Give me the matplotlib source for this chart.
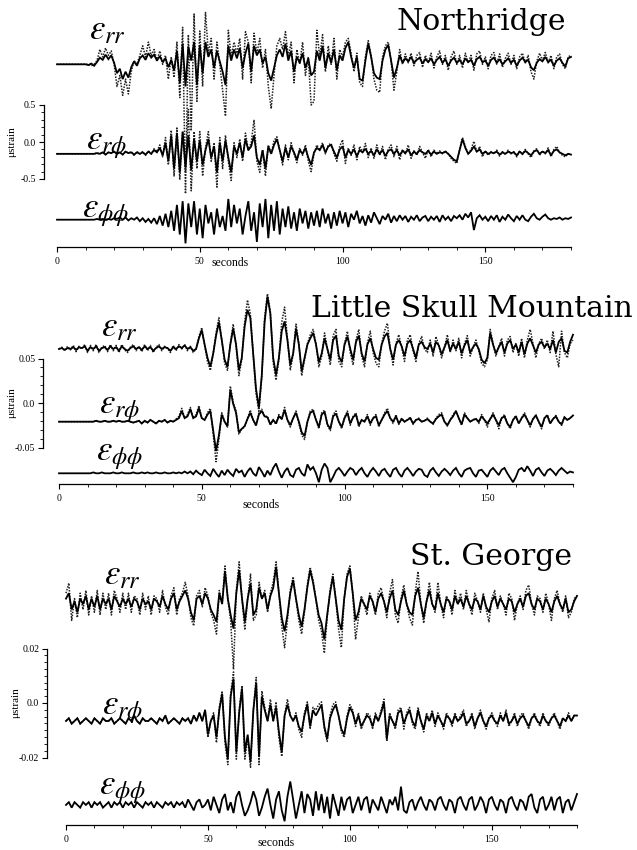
import numpy as np
import matplotlib
matplotlib.use("Agg")
import matplotlib.pyplot as plt
from matplotlib.ticker import MultipleLocator

plt.rcParams['mathtext.fontset'] = 'stix'

# ---------------- data (deviation from each trace's baseline, microstrain; 1 sample per second) -------------
seconds = list(range(0, 181))

# Northridge
nr_rr_solid = [0,0,0,0,0,0,0,0,0,0,
    0,-0.01,0.01,-0.02,0.03,0.09,0.06,0.13,0.07,0.12,
    0.02,-0.12,-0.06,-0.2,-0.1,-0.18,-0.04,0.04,-0.02,0.08,
    0.12,0.06,0.15,0.09,0.13,0.05,0.11,0.03,0.08,-0.04,
    0.06,-0.08,0.18,-0.25,0.28,-0.3,0.24,0.05,0.3,-0.28,
    0.26,-0.12,0.3,0.1,0.2,-0.05,0.18,0.04,-0.1,-0.28,
    0.25,0.05,0.2,0.08,0.22,-0.05,0.15,0.28,-0.1,0.25,
    0.12,0.2,0.02,0.1,-0.12,-0.22,-0.05,0.12,0.2,0.1,
    0.28,0.05,0.18,-0.1,0.1,0.02,0.15,-0.05,0.08,-0.15,
    -0.1,0.18,0.05,0.25,-0.05,0.15,0.02,0.2,-0.08,0.12,
    0.05,0.22,0.3,0.1,-0.05,0.1,-0.2,-0.22,0.05,0.28,
    0.1,-0.12,-0.18,-0.2,0.05,0.2,0.26,0.05,-0.18,-0.05,
    0.12,0.02,0.08,0.04,0.1,0.02,0.06,0.09,0.01,0.07,
    0.03,0.08,0.0,0.06,0.1,0.02,0.07,-0.02,0.05,0.09,
    0.02,0.06,0.0,0.08,0.03,0.06,-0.02,0.07,0.1,0.03,
    0.05,-0.02,0.06,0.09,0.02,0.07,0.0,0.04,0.08,0.02,
    0.06,-0.02,0.05,0.09,0.03,0.06,-0.04,-0.08,0.02,0.07,
    0.04,0.1,0.03,0.06,-0.02,0.05,0.08,0.02,-0.03,0.08,
    0.1]
nr_rr_dotted = [0,0,0,0,0,0,0,0,0,0,
    0,0,-0.02,0.0,0.05,0.2,0.1,0.22,0.12,0.18,
    0.0,-0.3,-0.15,-0.42,-0.2,-0.4,-0.1,0.05,0.0,0.12,
    0.25,0.1,0.3,0.12,0.2,0.05,0.18,0.0,0.12,-0.2,
    0.1,-0.18,0.3,-0.45,0.5,-1.75,0.4,-0.9,0.68,-0.5,
    0.45,-0.3,0.7,0.15,0.35,-0.2,0.3,0.0,-0.35,-0.7,
    0.46,0.1,0.3,0.15,0.35,-0.2,0.44,0.3,-0.25,0.42,
    0.15,0.35,-0.05,0.2,-0.3,-0.6,-0.15,0.25,0.35,0.2,
    0.44,0.1,0.3,-0.25,0.2,0.0,0.3,-0.15,0.1,-0.55,
    -0.5,0.46,0.1,0.4,-0.1,0.25,0.0,0.35,-0.2,0.2,
    0.1,0.3,0.35,0.15,-0.1,0.15,-0.25,-0.3,0.1,0.32,
    0.12,-0.2,-0.35,-0.38,0.1,0.25,0.3,0.05,-0.35,-0.1,
    0.2,0.0,0.14,0.02,0.15,-0.02,0.12,0.16,-0.04,0.12,
    0.02,0.15,-0.05,0.1,0.18,0.0,0.12,-0.08,0.1,0.18,
    0.0,0.12,-0.05,0.15,0.02,0.12,-0.08,0.14,0.18,0.0,
    0.1,-0.06,0.12,0.16,0.0,0.14,-0.04,0.08,0.15,0.0,
    0.12,-0.06,0.1,0.15,0.02,0.12,-0.1,-0.2,0.04,0.15,
    0.05,0.16,0.02,0.12,-0.06,0.1,0.14,0.0,-0.06,0.1,
    0.12]
nr_rp_solid = [0,0,0,0,0,0,0,0,0,0,
    0,0,0,0,0.01,0,0.02,-0.01,0.02,0.01,
    0.03,0.0,0.02,-0.01,0.03,0.01,0.02,-0.01,0.02,0.0,
    0.02,-0.01,0.03,0.0,0.05,0.02,0.08,-0.02,0.15,-0.1,
    0.25,-0.2,0.28,-0.25,0.3,-0.18,0.25,-0.22,0.2,-0.1,
    0.18,-0.15,0.05,0.2,-0.05,0.1,-0.25,0.15,-0.1,0.18,
    -0.05,-0.25,0.1,0.0,0.15,-0.05,0.2,0.05,0.1,0.25,
    -0.05,-0.15,0.05,-0.2,0.1,0.0,0.12,0.2,0.05,-0.1,
    0.08,-0.05,0.1,0.02,-0.08,0.05,0.0,0.08,-0.05,-0.15,
    0.02,0.08,0.05,0.12,0.02,0.1,0.12,0.03,-0.05,0.06,
    0.1,-0.05,0.05,0.0,0.06,-0.03,0.05,0.02,0.07,0.0,
    0.04,-0.02,0.06,0.0,0.05,-0.03,0.04,0.06,0.0,0.05,
    -0.02,0.04,0.01,0.06,-0.02,0.03,0.0,0.05,0.02,0.0,
    0.04,-0.01,0.03,0.0,0.02,0.01,0.03,0.0,-0.04,-0.08,
    -0.1,0.05,0.2,0.08,0.0,0.04,0.1,0.03,0.06,0.0,
    0.03,0.0,0.02,0.01,0.03,-0.01,0.02,0.0,0.03,0.01,
    0.02,-0.02,0.03,0.0,0.04,0.01,-0.02,0.03,0.05,0.0,
    0.03,0.01,0.05,-0.02,0.04,0.06,0.02,0.0,-0.02,0.0,
    -0.01]
nr_rp_dotted = [0,0,0,0,0,0,0,0,0,0,
    0,0,0,0,0.01,0,0.02,-0.01,0.02,0.01,
    0.03,0.0,0.02,-0.01,0.03,0.01,0.03,-0.02,0.03,0.0,
    0.03,-0.02,0.04,0.0,0.07,0.03,0.12,-0.04,0.22,-0.15,
    0.32,-0.3,0.35,-0.35,0.3,-0.25,0.6,-0.5,0.3,-0.2,
    0.3,-0.3,0.08,0.3,-0.1,0.15,-0.45,0.22,-0.2,0.25,
    -0.1,-0.36,0.15,-0.05,0.2,-0.1,0.28,0.05,0.15,0.46,
    -0.1,-0.25,0.05,-0.3,0.12,0.0,0.18,0.23,0.05,-0.15,
    0.12,-0.08,0.15,0.0,-0.12,0.08,-0.02,0.12,-0.1,-0.24,
    0.0,0.12,0.05,0.15,0.0,0.12,0.14,0.0,-0.1,0.1,
    0.19,-0.13,0.08,-0.02,0.12,-0.08,0.1,0.02,0.14,-0.05,
    0.08,-0.06,0.12,-0.02,0.1,-0.08,0.06,0.12,-0.04,0.1,
    -0.08,0.06,0.0,0.12,-0.06,0.04,-0.02,0.1,0.02,-0.06,
    0.06,-0.04,0.05,0.0,0.04,0.0,0.04,0.0,-0.06,-0.1,
    -0.13,0.06,0.22,0.1,0.0,0.06,0.17,0.02,0.1,-0.04,
    0.04,-0.02,0.03,0.0,0.05,-0.03,0.03,-0.01,0.05,0.0,
    0.03,-0.04,0.04,-0.01,0.06,0.0,-0.05,0.04,0.07,-0.02,
    0.04,0.0,0.08,-0.04,0.06,0.1,0.02,-0.02,-0.04,0.0,
    -0.01]
nr_pp_solid = [0,0,0,0,0,0,0,0,0,0,
    0,0,0,0,0.01,0,0.01,0,0.01,0,
    0.02,0.01,0.03,0.0,0.03,-0.01,0.02,0.0,0.03,-0.02,
    0.02,-0.03,0.01,-0.04,0.02,-0.06,0.05,-0.08,0.08,-0.1,
    0.12,-0.15,0.2,-0.2,0.25,-0.32,0.22,-0.1,0.25,-0.2,
    0.15,-0.25,0.2,-0.05,0.1,-0.2,0.15,-0.1,0.05,-0.15,
    0.28,-0.1,0.2,-0.05,0.15,-0.2,0.05,0.25,-0.15,0.1,
    -0.3,0.22,-0.1,0.28,-0.25,0.2,-0.15,0.25,-0.2,0.15,
    -0.1,0.18,-0.12,0.1,-0.15,0.15,-0.05,0.12,-0.12,0.1,
    -0.08,0.12,-0.1,0.15,-0.05,0.08,-0.12,0.1,-0.08,0.12,
    -0.05,0.1,-0.1,0.08,0.0,0.12,-0.05,0.05,-0.08,0.06,
    -0.04,0.1,0.02,-0.06,0.05,0.0,0.08,-0.04,0.05,-0.02,
    0.06,0.0,0.05,-0.03,0.04,0.0,0.06,-0.02,0.03,0.05,
    -0.02,0.04,0.0,0.05,-0.03,0.06,0.0,0.04,-0.02,0.05,
    0.02,0.06,0.0,0.08,0.03,0.1,-0.14,0.02,0.06,0.0,
    0.04,-0.02,0.05,0.0,0.06,-0.03,0.04,0.0,0.07,0.02,
    -0.02,0.05,0.0,0.06,0.0,-0.02,0.04,0.08,0.02,0.0,
    0.04,0.07,0.02,0.0,0.02,0.01,0.03,0.0,0.02,0.01,
    0.03]

# Little Skull Mountain
lsm_rr_solid = [0,0.001,-0.001,0.001,0,0.002,-0.001,0.002,0.001,0.003,
    -0.002,0.002,0.0,0.003,-0.002,0.001,0.002,-0.001,0.003,0.0,
    0.002,-0.002,0.003,0.0,-0.002,0.001,0.003,0.0,0.002,-0.001,
    0.003,0.0,0.002,-0.002,0.001,0.003,0.0,0.002,0.001,-0.002,
    0.002,0.0,0.003,0.001,0.004,0.0,0.002,-0.002,0.0,0.012,
    0.021,0.005,-0.01,-0.02,-0.005,0.015,0.03,0.01,-0.012,-0.02,
    0.005,0.023,0.005,-0.024,-0.01,0.025,0.044,0.035,-0.005,-0.045,
    -0.066,-0.03,0.03,0.059,0.04,-0.01,-0.029,-0.01,0.02,0.031,
    0.01,-0.018,-0.005,0.023,0.005,-0.025,-0.01,0.005,0.012,0.018,
    0.005,-0.015,-0.005,0.012,0.0,-0.012,0.01,0.015,-0.008,-0.015,
    0.005,0.014,0.0,-0.012,0.008,0.015,-0.005,-0.014,0.005,0.012,
    0.0,-0.01,-0.012,0.005,0.014,0.018,0.0,-0.012,0.005,0.01,
    0.003,-0.008,0.006,0.01,0.0,-0.01,0.005,0.008,0.002,0.0,
    0.006,-0.004,0.008,0.004,-0.006,0.002,0.01,-0.002,0.006,0.0,
    0.008,-0.005,0.004,0.01,-0.004,0.002,0.006,0.0,-0.012,-0.016,
    -0.01,0.018,0.005,-0.005,0.002,0.008,-0.004,0.006,0.01,0.0,
    0.005,-0.004,0.008,-0.006,0.006,0.012,0.004,-0.004,0.005,0.008,
    0.002,0.006,0.0,0.01,-0.004,0.008,0.012,-0.002,-0.004,0.008,
    0.016]
lsm_rr_dotted = [0,0.002,-0.002,0.003,-0.001,0.004,-0.003,0.003,0.0,0.005,
    -0.004,0.004,-0.002,0.005,-0.004,0.002,0.004,-0.003,0.005,-0.002,
    0.004,-0.004,0.005,-0.001,-0.004,0.002,0.005,-0.002,0.003,-0.003,
    0.005,-0.002,0.004,-0.004,0.002,0.005,-0.002,0.003,0.001,-0.004,
    0.004,-0.002,0.005,0.0,0.005,-0.002,0.003,-0.004,0.0,0.014,
    0.024,0.004,-0.014,-0.024,-0.006,0.018,0.035,0.01,-0.016,-0.024,
    0.006,0.028,0.004,-0.03,-0.012,0.03,0.055,0.04,-0.006,-0.05,
    -0.07,-0.032,0.035,0.062,0.042,-0.015,-0.035,-0.012,0.03,0.047,
    0.012,-0.024,-0.006,0.028,0.006,-0.03,-0.012,0.006,0.016,0.022,
    0.006,-0.02,-0.008,0.018,0.0,-0.018,0.015,0.022,-0.014,-0.02,
    0.006,0.02,-0.004,-0.018,0.01,0.022,-0.008,-0.02,0.006,0.02,
    -0.004,-0.016,-0.02,0.006,0.02,0.029,0.0,-0.018,0.006,0.016,
    0.002,-0.014,0.01,0.016,-0.002,-0.014,0.006,0.014,0.0,-0.004,
    0.01,-0.008,0.014,0.004,-0.01,0.002,0.016,-0.004,0.01,-0.002,
    0.012,-0.01,0.006,0.015,-0.008,0.002,0.01,-0.002,-0.016,-0.02,
    -0.012,0.022,0.006,-0.008,0.002,0.012,-0.008,0.01,0.014,-0.004,
    0.006,-0.008,0.012,-0.01,0.01,0.022,0.006,-0.01,0.006,0.012,
    0.0,0.01,-0.004,0.02,-0.006,-0.02,0.02,-0.004,-0.01,0.006,
    0.01]
lsm_rp_solid = [0,0,0,0,0,0,0,0,0,0,
    0,0,0,0.001,0,0,0.001,0,0,0.001,
    0,0.001,0,0,0.001,0,-0.001,0,0.001,-0.002,
    0.001,-0.001,0.002,0,-0.002,0.001,0,0.002,-0.001,0.001,
    0.0,0.002,0.004,0.012,0.004,0.006,0.014,0.004,0.006,0.015,
    0.004,0.002,0.008,0.012,-0.01,-0.033,-0.015,0.008,0.0,-0.005,
    0.036,0.02,0.01,-0.012,-0.008,-0.005,0.003,0.01,0.002,-0.004,
    0.008,0.012,0.006,0.005,-0.003,0.002,-0.002,0.006,0.003,0.013,
    0.002,-0.004,0.004,0.01,0.0,-0.012,-0.016,0.0,0.01,0.012,
    0.002,-0.006,0.008,0.011,-0.003,-0.008,0.006,0.009,0.0,-0.006,
    0.004,0.01,-0.002,0.005,0.008,-0.004,0.002,0.0,0.006,-0.002,
    0.004,0.006,-0.004,0.002,0.008,0.012,0.004,0.0,0.006,-0.002,
    0.003,0.0,0.002,0.004,-0.002,0.002,0.003,0.0,0.001,0.003,
    0.0,-0.002,0.003,0.006,0.008,0.0,-0.004,0.002,0.006,0.012,
    0.004,-0.003,0.008,0.004,0.0,0.002,0.003,0.0,0.006,0.002,
    -0.002,0.003,0.008,0.002,-0.004,0.004,0.006,-0.002,-0.006,0.002,
    0.006,-0.002,0.004,0.008,0.002,-0.004,0.003,0.007,0.0,-0.006,
    0.004,0.007,-0.002,0.003,0.006,0.0,-0.003,0.005,0.002,0.004,
    0.007]
lsm_rp_dotted = [0,0,0,0,0,0,0,0,0,0,
    0,0,0,0.001,0,0,0.001,0,0,0.001,
    0,0.001,0,0,0.001,0,-0.001,0,0.001,-0.002,
    0.001,-0.001,0.002,0,-0.002,0.001,0,0.002,-0.001,0.001,
    0.0,0.003,0.006,0.015,0.004,0.008,0.016,0.004,0.008,0.018,
    0.004,0.002,0.01,0.015,-0.014,-0.045,-0.02,0.01,0.0,-0.006,
    0.04,0.022,0.012,-0.014,-0.008,-0.006,0.004,0.013,0.002,-0.005,
    0.01,0.014,0.006,0.006,-0.004,0.002,-0.003,0.008,0.003,0.016,
    0.002,-0.006,0.004,0.012,-0.002,-0.015,-0.02,0.0,0.012,0.014,
    0.002,-0.008,0.01,0.013,-0.004,-0.01,0.008,0.012,0.0,-0.008,
    0.005,0.012,-0.004,0.006,0.01,-0.006,0.002,0.0,0.008,-0.004,
    0.004,0.008,-0.006,0.002,0.01,0.015,0.004,-0.002,0.008,-0.003,
    0.004,0.0,0.002,0.005,-0.003,0.002,0.004,0.0,0.001,0.004,
    0.0,-0.003,0.004,0.008,0.01,0.0,-0.005,0.002,0.008,0.012,
    0.004,-0.004,0.01,0.004,0.0,0.002,0.004,-0.002,0.008,0.002,
    -0.006,0.003,0.01,0.002,-0.008,0.004,0.008,-0.002,-0.008,0.002,
    0.007,-0.002,0.004,0.01,0.002,-0.006,0.003,0.008,0.0,-0.008,
    0.004,0.008,-0.002,0.003,0.007,0.0,-0.004,0.005,0.002,0.004,
    0.007]
lsm_pp_solid = [0,0,0,0,0,0,0,0,0,0,
    0,0,0.001,0,0,0.001,0,0,0,0.001,
    0,0,0.001,0,0,0,0.001,0,0,0.001,
    0,0.001,0,0,0.001,0,0,0.001,0,0,
    0.001,0,0.001,0,0.002,0.0,0.002,-0.001,0.003,0.0,
    -0.002,0.004,0.0,-0.003,0.005,0.0,-0.004,0.003,-0.002,0.004,
    0.0,-0.003,0.005,0.001,0.003,-0.004,0.002,0.006,0.0,-0.003,
    0.007,0.002,-0.004,0.003,-0.002,0.006,0.011,0.002,-0.005,0.002,
    0.006,-0.002,-0.004,0.004,0.006,0.0,-0.003,0.01,0.004,0.007,
    0.0,-0.01,0.004,0.011,0.006,-0.01,-0.004,0.003,0.006,0.002,
    -0.003,0.002,0.006,0.004,-0.002,0.003,0.006,0.0,-0.004,0.002,
    0.006,0.002,-0.003,0.003,0.005,0.0,-0.004,0.004,0.006,0.0,
    -0.004,0.003,0.006,0.002,-0.003,0.002,0.005,0.004,-0.002,-0.004,
    0.003,0.006,0.001,-0.003,0.002,0.005,0.002,-0.002,0.003,0.006,
    0.0,-0.004,0.003,0.005,0.006,0.0,-0.004,0.003,0.004,0.0,
    -0.004,0.003,0.006,0.002,-0.002,0.004,0.006,0.0,-0.005,-0.01,
    -0.004,0.004,0.006,0.002,0.008,0.003,-0.003,0.004,0.006,0.001,
    -0.003,0.003,0.005,0.002,-0.002,0.003,0.006,0.003,0.0,0.002,
    0.001]

# St. George
sg_rr_solid = [0.002,0.004,-0.002,0.001,-0.003,0.002,0.0,0.003,-0.002,0.002,
    -0.001,0.003,-0.002,0.002,0.0,0.002,-0.002,0.003,0.001,-0.001,
    0.002,0.0,0.002,-0.001,0.002,0.001,-0.002,0.002,0.0,0.001,
    -0.002,0.002,0.001,-0.001,0.003,0.0,-0.002,0.002,0.004,-0.002,
    0.001,0.003,0.005,0.002,-0.003,-0.006,0.002,0.003,0.0,0.004,
    0.002,-0.002,-0.004,-0.0065,0.004,0.0,0.012,0.002,-0.004,-0.009,
    0.004,0.0125,0.002,-0.0065,0.002,0.0076,-0.004,-0.002,0.006,0.002,
    0.004,-0.002,0.003,0.006,0.0137,0.004,-0.005,-0.01,-0.004,0.004,
    0.0088,0.002,-0.004,-0.0083,-0.002,0.006,0.0125,0.008,0.002,-0.004,
    -0.007,-0.013,-0.004,0.004,0.01,0.002,-0.006,-0.0095,0.002,0.01,
    0.013,0.004,-0.006,-0.003,0.002,0.0,-0.002,0.003,0.001,-0.003,
    0.002,0.004,0.001,-0.003,0.002,0.005,-0.002,-0.004,0.001,0.005,
    0.0,-0.003,-0.004,0.003,0.006,0.0,-0.005,0.001,0.005,0.0,
    -0.002,0.004,0.0,-0.003,0.002,0.001,-0.002,0.003,0.0,0.002,
    -0.001,0.003,0.0,-0.002,0.002,0.001,-0.002,0.003,-0.001,-0.003,
    0.001,0.003,-0.001,0.002,0.0,-0.002,0.002,0.001,-0.003,0.0,
    0.002,-0.001,0.003,0.004,0.0,-0.002,0.002,0.001,-0.002,0.002,
    0.0,-0.003,0.001,0.003,0.0,-0.002,0.002,-0.003,-0.002,0.001,
    0.003]
sg_rr_dotted = [0.004,0.0077,-0.006,0.002,-0.005,0.004,-0.002,0.005,-0.004,0.003,
    -0.003,0.005,-0.004,0.004,-0.002,0.004,-0.004,0.005,0.002,-0.003,
    0.004,-0.002,0.004,-0.003,0.003,0.002,-0.004,0.004,-0.002,0.003,
    -0.004,0.003,0.002,-0.003,0.005,-0.001,-0.004,0.003,0.006,-0.004,
    0.002,0.004,0.008,0.003,-0.005,-0.008,0.003,0.005,-0.001,0.006,
    0.003,-0.003,-0.006,-0.011,0.005,0.0,0.014,0.002,-0.006,-0.024,
    0.005,0.0155,0.002,-0.0095,0.002,0.011,-0.006,-0.004,0.008,0.002,
    0.005,-0.003,0.004,0.008,0.0155,0.004,-0.008,-0.016,-0.006,0.005,
    0.01,0.002,-0.006,-0.011,-0.003,0.007,0.0135,0.009,0.002,-0.006,
    -0.01,-0.018,-0.005,0.005,0.011,0.002,-0.009,-0.016,0.002,0.011,
    0.014,0.004,-0.013,-0.005,0.003,0.0,-0.004,0.004,0.001,-0.004,
    0.004,0.006,0.001,-0.005,0.004,0.009,-0.004,-0.007,0.002,0.007,
    0.0,-0.005,-0.0077,0.004,0.012,0.0,-0.007,0.001,0.008,0.0,
    -0.003,0.008,0.0,-0.005,0.003,0.001,-0.004,0.005,0.0,0.004,
    -0.002,0.005,0.0,-0.004,0.004,0.001,-0.003,0.004,-0.002,-0.0065,
    0.002,0.005,-0.002,0.003,0.0,-0.004,0.004,0.002,-0.006,0.0,
    0.003,-0.002,0.005,0.007,0.0,-0.004,0.003,0.002,-0.003,0.004,
    0.0,-0.006,0.002,0.005,0.0,-0.003,0.003,-0.005,-0.003,0.002,
    0.003]
sg_rp_solid = [0.0,0.001,-0.001,0.0,0.001,-0.001,0.0,0.001,0.0,-0.001,
    0.001,0.0,-0.001,0.001,0.0,0.0,0.001,-0.001,0.0,0.001,
    0.0,-0.001,0.001,0.0,0.002,0.0,-0.001,0.001,0.0,0.0,
    0.001,0.0,-0.001,0.001,0.0,0.002,-0.001,0.0,0.001,0.0,
    -0.001,0.001,0.0,0.001,-0.001,0.002,0.0,0.003,0.0,0.004,
    -0.005,0.0,0.002,-0.006,0.004,0.01,-0.006,-0.014,0.009,0.0154,
    -0.0115,0.003,0.012,-0.0115,-0.005,-0.015,0.004,0.014,-0.013,0.009,
    0.004,0.0,0.006,0.0,0.005,-0.004,-0.0115,0.002,0.006,0.002,
    0.0,0.002,-0.002,-0.004,0.002,0.006,-0.002,0.004,0.002,0.004,
    0.006,-0.002,-0.0066,0.001,0.004,0.006,0.002,-0.003,-0.005,0.001,
    0.005,0.003,-0.001,0.002,-0.002,0.0,0.002,0.001,-0.002,0.002,
    0.0,0.003,0.0068,-0.0066,0.002,0.0,-0.002,0.003,0.004,-0.001,
    0.002,0.004,0.0,-0.002,0.004,0.0,-0.003,0.002,0.0,0.003,
    -0.001,0.002,0.0,-0.002,0.002,0.001,-0.001,0.002,0.0,0.001,
    0.003,-0.001,0.0,0.002,-0.002,0.001,0.003,0.0,-0.002,0.001,
    0.002,0.0,-0.001,0.002,0.0,0.003,-0.001,0.0,0.002,-0.001,
    0.001,0.002,0.0,-0.002,0.001,0.002,0.0,-0.001,0.002,0.0,
    -0.001,0.001,0.002,0.0,-0.002,0.001,0.0,0.002,0.0,0.002,
    0.002]
sg_rp_dotted = [0.0,0.001,-0.001,0.0,0.001,-0.001,0.0,0.001,0.0,-0.001,
    0.001,0.0,-0.001,0.001,0.0,0.0,0.001,-0.001,0.0,0.001,
    0.0,-0.001,0.001,0.0,0.002,0.0,-0.001,0.001,0.0,0.0,
    0.001,0.0,-0.001,0.001,0.0,0.002,-0.001,0.0,0.001,0.0,
    -0.001,0.001,0.0,0.001,-0.001,0.002,0.0,0.003,0.0,0.004,
    -0.006,0.0,0.003,-0.008,0.005,0.011,-0.008,-0.016,0.01,0.018,
    -0.014,0.004,0.013,-0.014,-0.006,-0.017,0.004,0.016,-0.016,0.011,
    0.005,0.0,0.008,0.0,0.007,-0.006,-0.013,0.002,0.008,0.002,
    0.0,0.003,-0.003,-0.006,0.003,0.007,-0.003,0.005,0.004,0.006,
    0.007,-0.003,-0.0075,0.002,0.006,0.007,0.002,-0.004,-0.006,0.002,
    0.006,0.004,-0.002,0.003,-0.003,0.0,0.003,0.002,-0.003,0.003,
    0.0,0.004,0.008,-0.0075,0.003,0.0,-0.003,0.004,0.005,-0.003,
    0.003,0.005,-0.001,-0.003,0.005,0.0,-0.004,0.003,0.0,0.004,
    -0.002,0.003,0.0,-0.003,0.003,0.001,-0.002,0.003,0.0,0.002,
    0.004,-0.002,0.0,0.003,-0.003,0.001,0.004,0.0,-0.003,0.001,
    0.003,0.0,-0.002,0.003,0.0,0.004,-0.002,0.0,0.003,-0.002,
    0.002,0.003,0.0,-0.003,0.001,0.003,0.0,-0.002,0.003,0.0,
    -0.002,0.001,0.003,0.0,-0.003,0.001,0.0,0.003,0.0,0.002,
    0.002]
sg_pp_solid = [0.0,0.001,-0.001,0.001,0.0,-0.001,0.001,0.0,0.001,-0.001,
    0.001,0.0,0.001,-0.001,0.0,0.001,-0.001,0.001,0.0,0.001,
    -0.001,0.001,0.0,0.001,-0.001,0.001,0.0,-0.001,0.001,0.0,
    0.001,-0.001,0.001,0.0,-0.001,0.001,0.0,0.001,-0.001,0.001,
    0.0,0.001,-0.001,0.002,0.0,-0.002,0.001,0.002,-0.001,0.0,
    0.002,-0.002,0.003,0.0,-0.003,0.002,0.004,-0.002,0.001,-0.003,
    0.003,0.005,0.0,-0.004,-0.002,0.001,0.005,0.002,-0.004,-0.001,
    0.003,0.006,0.0,-0.005,0.002,0.005,-0.002,-0.006,0.003,0.0086,
    0.002,-0.005,0.0,0.005,-0.003,0.004,0.002,-0.004,0.005,-0.002,
    0.004,-0.003,0.003,-0.005,0.004,0.0,-0.004,0.003,-0.002,0.002,
    0.003,-0.003,0.0,0.003,-0.002,0.002,0.003,-0.003,0.002,0.0,
    -0.002,0.003,0.0,-0.003,0.002,0.0,0.003,-0.002,0.0067,-0.002,
    -0.003,0.001,0.002,-0.002,0.001,0.003,0.0,-0.002,0.002,0.001,
    -0.002,0.002,0.003,0.0,-0.002,0.002,0.001,-0.003,0.002,0.003,
    0.0,-0.002,0.002,0.003,-0.002,0.0,0.003,0.001,-0.003,0.002,
    0.003,0.0,-0.002,0.002,0.001,-0.003,0.002,0.003,0.0,-0.002,
    0.002,0.001,-0.002,0.003,0.004,-0.001,-0.003,0.002,0.003,-0.002,
    0.0,0.003,-0.002,0.002,0.003,-0.003,0.001,0.002,-0.002,0.001,
    0.004]

station_names = ["Northridge", "Little Skull Mountain", "St. George"]
ytick_values = [[-0.5, 0.0, 0.5], [-0.05, 0.0, 0.05], [-0.02, 0.0, 0.02]]
ytick_labels = [["-0.5", "0.0", "0.5"], ["-0.05", "0.0", "0.05"], ["-0.02", "0.0", "0.02"]]
xtick_values = [0, 50, 100, 150]
component_labels = [r"$\varepsilon_{rr}$", r"$\varepsilon_{r\phi}$", r"$\varepsilon_{\phi\phi}$"]

# ---------------- layout (pixels in a 637x850 canvas) ----------------
W, H = 637, 850
fig = plt.figure(figsize=(W / 100, H / 100), dpi=100)
fig.patch.set_facecolor("white")

panels = [
    dict(spine=44, t0=57, t180=571, top=0, bottom=247, zero=142, ppu=74.0,
         offsets=[1.05, -0.16, -1.05], minor=0.1,
         traces=[(nr_rr_solid, nr_rr_dotted), (nr_rp_solid, nr_rp_dotted), (nr_pp_solid, None)],
         labels=[(89, 39), (86, 149), (82, 217)],
         title=(566, 30, "right"), secs=(230, 266), ylab=(12, 142)),
    dict(spine=43, t0=59, t180=573, top=285, bottom=484, zero=403, ppu=890.0,
         offsets=[0.0607, -0.021, -0.079], minor=0.01,
         traces=[(lsm_rr_solid, lsm_rr_dotted), (lsm_rp_solid, lsm_rp_dotted), (lsm_pp_solid, None)],
         labels=[(101, 336), (99, 413), (96, 460)],
         title=(633, 317, "right"), secs=(261, 508), ylab=(12, 403)),
    dict(spine=47, t0=66, t180=577, top=548, bottom=825, zero=703, ppu=2725.0,
         offsets=[0.0363, -0.0066, -0.0374], minor=0.0025,
         traces=[(sg_rr_solid, sg_rr_dotted), (sg_rp_solid, sg_rp_dotted), (sg_pp_solid, None)],
         labels=[(104, 584), (102, 714), (99, 794)],
         title=(572, 565, "right"), secs=(276, 846), ylab=(16, 703)),
]

serif_small = ["Liberation Serif", "DejaVu Serif"]

for i, p in enumerate(panels):
    pps = (p["t180"] - p["t0"]) / 180.0
    ax = fig.add_axes([p["spine"] / W, 1 - p["bottom"] / H,
                       (p["t180"] - p["spine"]) / W, (p["bottom"] - p["top"]) / H])
    ax.set_xlim(-(p["t0"] - p["spine"]) / pps, 180)
    ax.set_ylim((p["zero"] - p["bottom"]) / p["ppu"], (p["zero"] - p["top"]) / p["ppu"])
    ax.patch.set_alpha(0)

    for k, (sol, dot) in enumerate(p["traces"]):
        off = p["offsets"][k]
        if dot is not None:
            ax.plot(np.arange(len(dot)), np.asarray(dot) + off, color="#222222",
                    lw=1.1, linestyle=(0, (1.0, 0.9)), clip_on=False, zorder=2)
        ax.plot(np.arange(len(sol)), np.asarray(sol) + off, color="black",
                lw=1.3, clip_on=False, zorder=3, solid_joinstyle="miter")

    for s in ["top", "right"]:
        ax.spines[s].set_visible(False)
    ax.spines["left"].set_bounds(ytick_values[i][0], ytick_values[i][-1])
    ax.spines["bottom"].set_bounds(0, 180)
    ax.spines["left"].set_linewidth(0.9)
    ax.spines["bottom"].set_linewidth(0.9)

    ax.set_yticks(ytick_values[i])
    ax.set_yticklabels(ytick_labels[i], family=serif_small, fontsize=7)
    ax.set_xticks(xtick_values)
    ax.set_xticklabels([str(v) for v in xtick_values], family=serif_small, fontsize=7)
    ax.xaxis.set_minor_locator(MultipleLocator(10))
    ax.tick_params(axis="both", which="major", direction="out", length=3.5, width=0.8, pad=2)
    ax.tick_params(axis="both", which="minor", direction="out", length=2, width=0.6)
    ax.tick_params(axis="x", pad=4)
    lo, hi = ytick_values[i][0], ytick_values[i][-1]
    minors = np.arange(lo, hi + p["minor"] / 2, p["minor"])
    ax.set_yticks(minors, minor=True)

    for k, (lx, ly) in enumerate(p["labels"]):
        fig.text(lx / W, 1 - ly / H, component_labels[k], fontsize=25,
                 ha="left", va="baseline")

    tx, ty, ha = p["title"]
    fig.text(tx / W, 1 - ty / H, station_names[i], family="DejaVu Serif",
             fontsize=21.5, ha=ha, va="baseline")
    sx, sy = p["secs"]
    fig.text(sx / W, 1 - sy / H, "seconds", family=serif_small, fontsize=8.5,
             ha="center", va="baseline")
    yx, yy = p["ylab"]
    fig.text(yx / W, 1 - yy / H, "\u03bcstrain", family=serif_small, fontsize=8,
             rotation=90, ha="center", va="center")

fig.savefig("out.png", dpi=100, facecolor="white")
